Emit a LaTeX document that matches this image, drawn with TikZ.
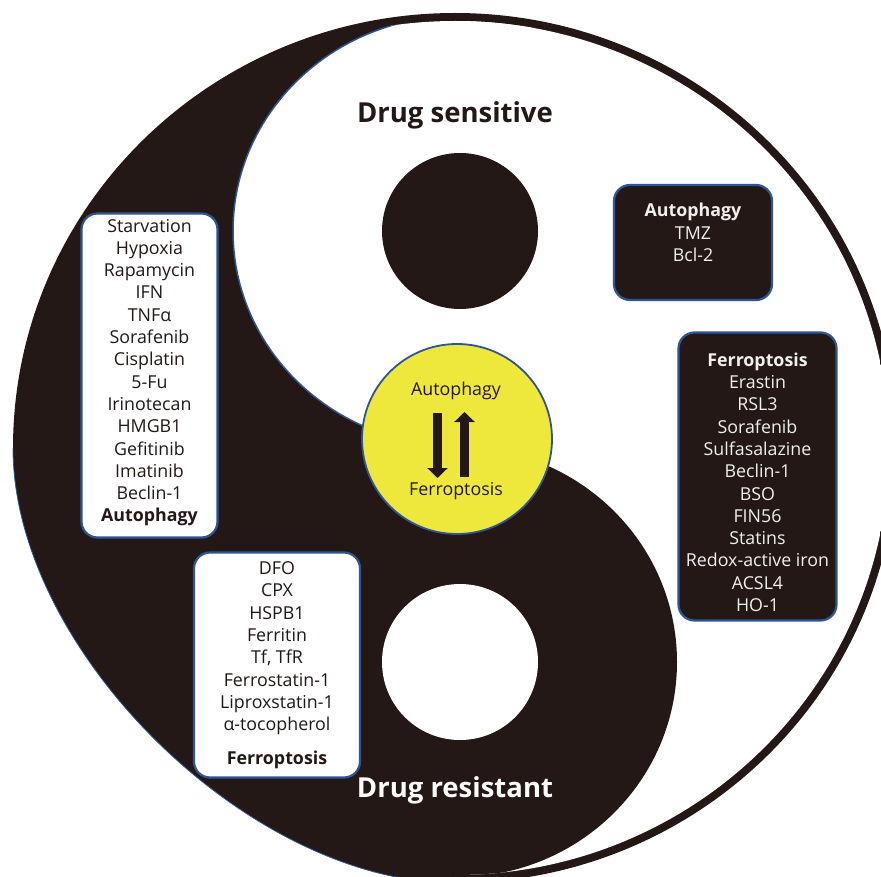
\documentclass[tikz,border=0pt]{standalone}
\usepackage{fontspec}
\setmainfont{Open Sans}
\usetikzlibrary{arrows.meta}

\definecolor{inkblack}{HTML}{231815}
\definecolor{rimblue}{HTML}{2F5597}
\definecolor{sunyellow}{HTML}{EEE83C}

\begin{document}
\begin{tikzpicture}[x=1pt,y=-1pt,>={Triangle[width=20pt,length=10pt]},
  light box/.style={rounded corners=16pt,draw=rimblue,line width=2.2pt,fill=white,align=center,inner sep=0pt,font=\fontsize{17.8}{22.3}\selectfont,text=inkblack},
  dark box/.style={light box,fill=inkblack,text=white!94!black},
  big title/.style={anchor=base,font=\fontsize{27.5}{30}\selectfont\bfseries}]

            \useasboundingbox (0,0) rectangle (881,877);

            % black half and outer ring
            \fill[inkblack] (13,448) .. controls (13,208) and (211,13) .. (455,13)
                .. controls (699,13) and (897,208) .. (897,448)
                .. controls (897,688) and (699,883) .. (455,883)
                .. controls (249,883) and (13,650) .. (13,448);
            \draw[rimblue,line width=0.8pt] (455,883) .. controls (249,883) and (13,650) .. (13,448);

            % white half
            \begin{scope}
                \clip (455,448) ellipse [x radius=434, y radius=427];
                \fill[white] (455,0) rectangle (900,900);
                \fill[white] (458,231) ellipse [x radius=225, y radius=215];
                \fill[inkblack] (458,662) ellipse [x radius=219, y radius=215];
                \clip (0,0) rectangle (458,448);
                \draw[rimblue,line width=1.5pt] (458,231) ellipse [x radius=225, y radius=215];
            \end{scope}

            \fill[inkblack] (460,231) circle [radius=78];
            \fill[white] (460,662) circle [radius=78];

            \node[circle,draw=rimblue,line width=1.8pt,fill=sunyellow,minimum size=190pt,inner sep=0pt] (1) at (457,439) {};
            \node[anchor=base,font=\fontsize{17.8}{22.3}\selectfont,text=inkblack] (8) at (456,395) {Autophagy};
            \node[anchor=base,font=\fontsize{17.8}{22.3}\selectfont,text=inkblack] (9) at (456,495) {Ferroptosis};

            \coordinate (a) at (437.5,413);
            \coordinate (b) at (437.5,478);
            \coordinate (c) at (464.5,477);
            \coordinate (d) at (464.5,412);
            \draw[->,inkblack,line width=9pt] (a) -- (b);
            \draw[->,inkblack,line width=9pt] (c) -- (d);

            \node[big title,text=inkblack] (6) at (455,123) {Drug sensitive};
            \node[big title,text=white] (7) at (455,797) {Drug resistant};

            \node[light box,minimum width=136pt,minimum height=324pt] (2) at (149.5,375.5)
                {Starvation\\Hypoxia\\Rapamycin\\IFN\\TNFα\\Sorafenib\\Cisplatin\\5-Fu\\Irinotecan\\HMGB1\\Gefitinib\\Imatinib\\Beclin-1\\\textbf{Autophagy}\rule[-10pt]{0pt}{0pt}};
            \node[light box,minimum width=166pt,minimum height=225pt] (3) at (277,665)
                {DFO\\CPX\\HSPB1\\Ferritin\\Tf, TfR\\Ferrostatin-1\\Liproxstatin-1\\α-tocopherol\\[11pt]\textbf{Ferroptosis}};
            \node[dark box,minimum width=158pt,minimum height=115pt] (4) at (693,242.5)
                {\textbf{Autophagy}\\TMZ\\Bcl-2\rule[-20pt]{0pt}{0pt}};
            \node[dark box,minimum width=158pt,minimum height=288pt] (5) at (757.5,476.5)
                {\textbf{Ferroptosis}\rule{0pt}{25pt}\\Erastin\\RSL3\\Sorafenib\\Sulfasalazine\\Beclin-1\\BSO\\FIN56\\Statins\\Redox-active iron\\ACSL4\\HO-1};

            ;
        \end{tikzpicture}
\end{document}
